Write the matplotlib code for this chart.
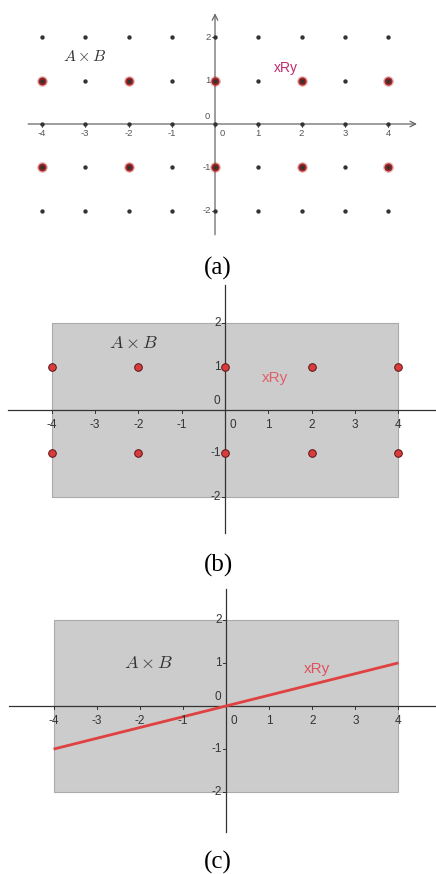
import numpy as np
import matplotlib
matplotlib.use("Agg")
import matplotlib.pyplot as plt

plt.rcParams['mathtext.fontset'] = 'cm'

# grid of A x B
xs = [-4, -3, -2, -1, 0, 1, 2, 3, 4]
ys = [-2, -1, 0, 1, 2]
# pairs in the relation
rel_x = [-4, -2, 0, 2, 4]
rel_y = [-1, 1]
# continuous relation y = x / 4
line_x = [-4, 4]
line_y = [-1, 1]
x_ticks = [-4, -3, -2, -1, 0, 1, 2, 3, 4]
y_ticks = [-2, -1, 1, 2]

W, H = 436, 874
fig = plt.figure(figsize=(W / 100, H / 100), dpi=100)


def make_axes(top_px, bot_px, ox, oy, unit):
    ax = fig.add_axes([0, 1 - bot_px / H, 1, (bot_px - top_px) / H])
    ax.set_xlim(-ox / unit, (W - ox) / unit)
    ax.set_ylim(-(bot_px - oy) / unit, (oy - top_px) / unit)
    ax.axis('off')
    return ax


def draw_axes(ax, x0, x1, y0, y1, color, arrows=False, fs=7, tick_pad=0.2, lab='#444444'):
    if arrows:
        ax.annotate('', xy=(x1, 0), xytext=(x0, 0),
                    arrowprops=dict(arrowstyle='->', color=color, lw=0.9, shrinkA=0, shrinkB=0))
        ax.annotate('', xy=(0, y1), xytext=(0, y0),
                    arrowprops=dict(arrowstyle='->', color=color, lw=0.9, shrinkA=0, shrinkB=0))
    else:
        ax.plot([x0, x1], [0, 0], color=color, lw=0.9, zorder=2)
        ax.plot([0, 0], [y0, y1], color=color, lw=0.9, zorder=2)
    for t in x_ticks:
        ax.plot([t, t], [0, -0.06], color=color, lw=0.7, zorder=2)
        lx = t + 0.17 if t == 0 else t
        ax.text(lx, -tick_pad, str(t), ha='center', va='top', fontsize=fs,
                color=lab, family='Liberation Sans', zorder=5)
    for t in y_ticks:
        ax.plot([0, -0.06], [t, t], color=color, lw=0.7, zorder=2)
        ax.text(-0.1, t, str(t), ha='right', va='center', fontsize=fs,
                color=lab, family='Liberation Sans', zorder=5)
    ax.text(-0.12, 0.08, '0', ha='right', va='bottom', fontsize=fs,
            color=lab, family='Liberation Sans', zorder=5)


# (a) discrete grid with highlighted pairs
ax1 = make_axes(0, 250, 215, 124, 43.25)
draw_axes(ax1, -4.32, 4.67, -2.56, 2.56, '#666666', arrows=True, fs=6.8, tick_pad=0.12,
          lab='#555555')
gx, gy = np.meshgrid(xs, ys)
rx, ry = np.meshgrid(rel_x, rel_y)
ax1.scatter(rx.ravel(), ry.ravel(), s=60, color='#b83a3a', alpha=0.35, lw=0, zorder=3)
ax1.scatter(rx.ravel(), ry.ravel(), s=34, color='#a82020', lw=0, zorder=3)
ax1.scatter(gx.ravel(), gy.ravel(), s=10, color='#333333', lw=0, zorder=4)
ax1.text(-3.0, 1.55, r'$A \times B$', fontsize=11.5, color='#333333', ha='center', va='center')
ax1.text(1.63, 1.3, 'xRy', fontsize=10, color='#c02a6a', family='Liberation Sans',
         ha='center', va='center')
fig.text(218 / W, 1 - 268 / H, '(a)', fontsize=18, family='Liberation Serif',
         ha='center', va='center')

# (b) product set as a region with the pairs on it
ax2 = make_axes(280, 545, 225, 410, 43.3)
ax2.add_patch(plt.Rectangle((-4, -2), 8, 4, facecolor='#cccccc', edgecolor='#aaaaaa',
                            lw=0.8, zorder=1))
draw_axes(ax2, -5.01, 6, -2.84, 2.89, '#333333', fs=8.5, lab='#333333')
ax2.scatter(rx.ravel(), ry.ravel(), s=30, color='#d83c3c', edgecolor='#5a1212',
            lw=0.7, zorder=4)
ax2.text(-2.1, 1.55, r'$A \times B$', fontsize=13, color='#333333', ha='center', va='center')
ax2.text(1.15, 0.75, 'xRy', fontsize=11, color='#e0606a', family='Liberation Sans',
         ha='center', va='center')
fig.text(218 / W, 1 - 565 / H, '(b)', fontsize=18, family='Liberation Serif',
         ha='center', va='center')

# (c) product set with the relation as a line
ax3 = make_axes(580, 845, 226, 706, 43.1)
ax3.add_patch(plt.Rectangle((-4, -2), 8, 4, facecolor='#cccccc', edgecolor='#aaaaaa',
                            lw=0.8, zorder=1))
draw_axes(ax3, -5.03, 6, -2.93, 2.72, '#333333', fs=8.5, lab='#333333')
ax3.plot(line_x, line_y, color='#e04040', lw=2, zorder=4, solid_capstyle='butt')
ax3.text(-1.8, 1.0, r'$A \times B$', fontsize=13, color='#333333', ha='center', va='center')
ax3.text(2.1, 0.87, 'xRy', fontsize=11, color='#e05060', family='Liberation Sans',
         ha='center', va='center')
fig.text(218 / W, 1 - 862 / H, '(c)', fontsize=18, family='Liberation Serif',
         ha='center', va='center')

fig.savefig('out.png', dpi=100, facecolor='white')
